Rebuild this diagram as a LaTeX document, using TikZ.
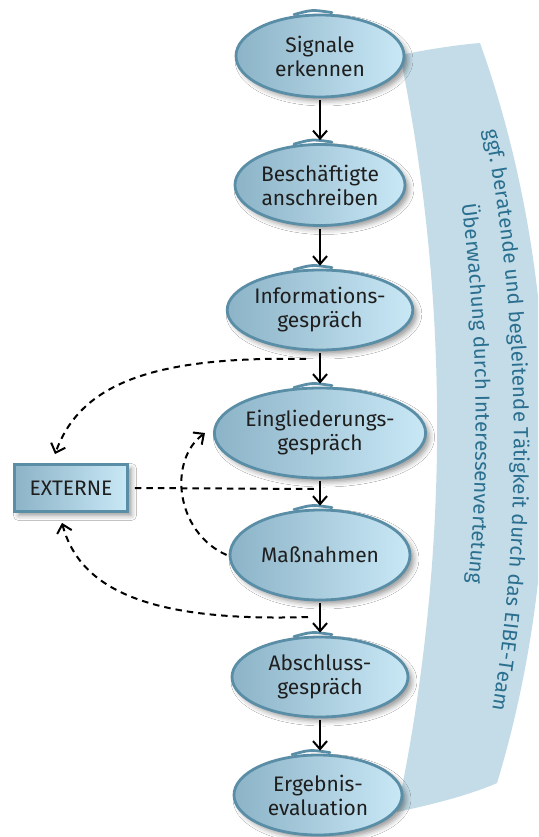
\documentclass[tikz,border=0pt]{standalone}
\usepackage{fontspec}
\setmainfont{Fira Sans}
\setsansfont{Fira Sans}
\usetikzlibrary{shapes.geometric,arrows.meta,shadows.blur,decorations.text}
\definecolor{nodeL}{HTML}{8CB3C7}
\definecolor{nodeR}{HTML}{C9E8F6}
\definecolor{nodeBorder}{HTML}{5A8EA7}
\definecolor{bandcol}{HTML}{C3DCE7}
\definecolor{bandtxt}{HTML}{2A6F8F}
\definecolor{txt}{HTML}{1E1E1E}
\begin{document}
\begin{tikzpicture}[x=1pt,y=-1pt,
  softshadow/.style={blur shadow={shadow xshift=4pt, shadow yshift=-4pt, shadow blur radius=5pt, shadow opacity=40}},
  stepnode/.style={ellipse, draw=nodeBorder, line width=2.8pt,
    left color=nodeL, right color=nodeR, text=txt,
    font=\fontsize{21}{24}\selectfont, align=center, inner sep=0pt, softshadow},
  extnode/.style={rectangle, draw=nodeBorder, line width=2.8pt,
    left color=nodeL, right color=nodeR, text=txt,
    font=\fontsize{21}{24}\selectfont, inner sep=0pt,
    minimum width=113pt, minimum height=47pt, softshadow},
  bumpline/.style={draw=nodeBorder, line width=2.8pt, line cap=round},
  arr/.style={line width=2pt, black, -{Straight Barb[length=8pt,width=14pt]},
    shorten <=2pt, shorten >=3pt},
  dsh/.style={line width=2pt, black, dash pattern=on 6.5pt off 5pt},
  dsharr/.style={dsh, -{Straight Barb[length=8pt,width=15pt]}},
  bandtext/.style={decorate, decoration={text along path, text align=center, text color=bandtxt,
    text={|\fontsize{20.5}{20.5}\selectfont|#1}}},
]
\useasboundingbox (0,0) rectangle (538,837);
\clip (0,0) rectangle (538,837);
\fill[white] (0,0) rectangle (538,837);

% band
\fill[bandcol] (400,55) .. controls (450,300) and (450,560) .. (397,812)
  .. controls (430,805) and (470,795) .. (497,783)
  .. controls (565,560) and (565,280) .. (480,43)
  .. controls (455,45) and (425,50) .. (400,55) -- cycle;
\path[bandtext={ggf. beratende und begleitende Tätigkeit durch das EIBE-Team}]
  (482,118) .. controls (523,320) and (523,540) .. (490,722);
\path[bandtext={Überwachung durch Interessenvertetung}]
  (445,104) .. controls (484,300) and (484,510) .. (455,684);

% nodes
\node[stepnode, minimum width=168pt, minimum height=82pt] (s1) at (320,56) {Signale\\erkennen};
\node[stepnode, minimum width=170pt, minimum height=81pt] (s2) at (320,185) {Beschäftigte\\anschreiben};
\node[stepnode, minimum width=168pt, minimum height=80pt] (s3) at (320,310) {Informations-\\gespräch};
\node[stepnode, minimum width=182pt, minimum height=90pt] (s4) at (320,433) {Eingliederungs-\\gespräch};
\node[stepnode, minimum width=180pt, minimum height=90pt] (s5) at (320,555) {Maßnahmen};
\node[stepnode, minimum width=176pt, minimum height=80pt] (s6) at (320,677) {Abschluss-\\gespräch};
\node[stepnode, minimum width=168pt, minimum height=80pt] (s7) at (318,795) {Ergebnis-\\evaluation};
\node[extnode] (ext) at (71,488) {EXTERNE};

\foreach \n in {s1,s2,s3,s4,s5,s6,s7}{
  \draw[bumpline] ([shift={(-26,1)}]\n.north) .. controls ([shift={(-8,-4)}]\n.north) .. ([shift={(12,-1)}]\n.north);
}

% solid arrows
\draw[arr] (s1) -- (s2);
\draw[arr] (s2) -- (s3);
\draw[arr] (s3) -- (s4);
\draw[arr] (s4) -- (s5);
\draw[arr] (s5) -- (s6);
\draw[arr] (s6.south) -- ([xshift=2pt]s7.north);

% dashed connectors
\coordinate (d1) at (306,359);
\coordinate (d2) at (318,489);
\coordinate (d4) at (308,617);
\draw[dsharr] (d1) .. controls (150,356) and (80,385) .. ([shift={(-16,-9)}]ext.north);
\draw[dsh] ([xshift=6pt]ext.east) -- (d2);
\draw[dsharr] ([xshift=-2pt]s5.west) .. controls (175,532) and (168,460) .. ([xshift=-8pt]s4.west);
\draw[dsharr] (d4) .. controls (150,622) and (80,590) .. ([shift={(-9,10)}]ext.south);
\end{tikzpicture}
\end{document}
